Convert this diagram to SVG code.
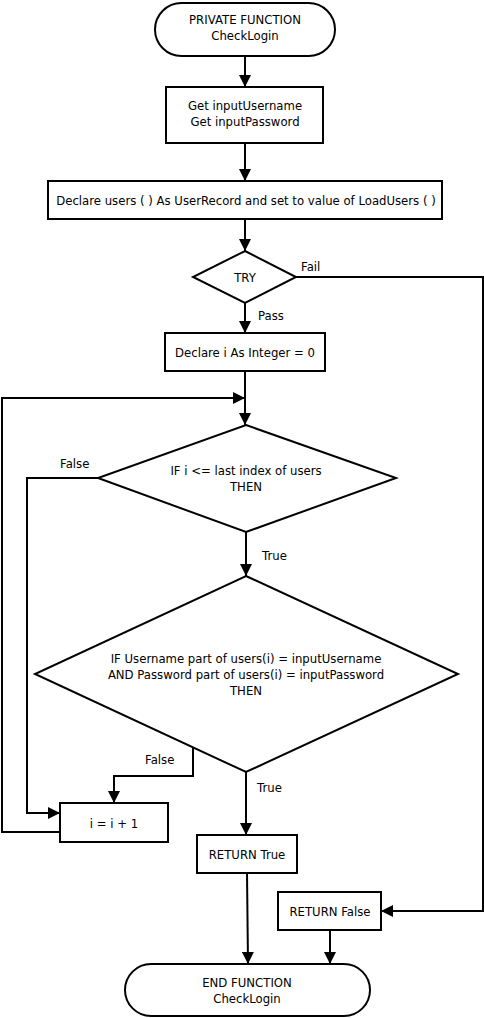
<svg xmlns="http://www.w3.org/2000/svg" width="484" height="1018" viewBox="0 0 484 1018">
  <style>
    .shape { fill: #ffffff; stroke: #000000; stroke-width: 2; }
    .edge { fill: none; stroke: #000000; stroke-width: 2; }
    text { font-family: "DejaVu Sans", "Liberation Sans", sans-serif; font-size: 11.7px; fill: #000000; }
    .c { text-anchor: middle; }
  </style>
  <defs>
    <marker id="arrow" viewBox="0 0 12 12" refX="12" refY="6" markerWidth="12" markerHeight="12" markerUnits="userSpaceOnUse" orient="auto">
      <path d="M0,0 L12,6 L0,12 Z" fill="#000000"/>
    </marker>
  </defs>
  <rect width="484" height="1018" fill="#ffffff"/>

  <!-- connectors -->
  <g id="connectors">
    <path class="edge" d="M245,56 L245,87" marker-end="url(#arrow)"/>
    <path class="edge" d="M245,143 L245,181" marker-end="url(#arrow)"/>
    <path class="edge" d="M245,219 L245,251" marker-end="url(#arrow)"/>
    <path class="edge" d="M245,303 L245,333" marker-end="url(#arrow)"/>
    <text x="258" y="320">Pass</text>
    <path class="edge" d="M296,277 L483,277 L483,911 L381,911" marker-end="url(#arrow)"/>
    <text x="301" y="271">Fail</text>
    <path class="edge" d="M245,371 L245,425" marker-end="url(#arrow)"/>
    <path class="edge" d="M60,832 L2,832 L2,398 L245,398" marker-end="url(#arrow)"/>
    <path class="edge" d="M98,478 L27,478 L27,813 L60,813" marker-end="url(#arrow)"/>
    <text x="60" y="468">False</text>
    <path class="edge" d="M246,532 L246,576" marker-end="url(#arrow)"/>
    <text x="262" y="560">True</text>
    <path class="edge" d="M193,748 L193,776 L114,776 L114,803" marker-end="url(#arrow)"/>
    <text x="145" y="764">False</text>
    <path class="edge" d="M246,772 L246,835" marker-end="url(#arrow)"/>
    <text x="257" y="792">True</text>
    <path class="edge" d="M247,873 L248,964" marker-end="url(#arrow)"/>
    <path class="edge" d="M330,930 L330,964" marker-end="url(#arrow)"/>
  </g>

  <g id="start">
    <rect class="shape" x="155" y="3" width="180" height="53" rx="26.5" ry="26.5"/>
    <text class="c" x="245" y="24">PRIVATE FUNCTION</text>
    <text class="c" x="245" y="40">CheckLogin</text>
  </g>

  <g id="get-inputs">
    <rect class="shape" x="166" y="87" width="157" height="56"/>
    <text class="c" x="245" y="110">Get inputUsername</text>
    <text class="c" x="245" y="126">Get inputPassword</text>
  </g>

  <g id="declare-users">
    <rect class="shape" x="48" y="181" width="394" height="38"/>
    <text class="c" x="246" y="205">Declare users ( ) As UserRecord and set to value of LoadUsers ( )</text>
  </g>

  <g id="try">
    <polygon class="shape" points="245,251 296,277 245,303 193,277"/>
    <text class="c" x="245" y="282">TRY</text>
  </g>

  <g id="declare-i">
    <rect class="shape" x="165" y="333" width="160" height="38"/>
    <text class="c" x="245" y="357">Declare i As Integer = 0</text>
  </g>

  <g id="check-index">
    <polygon class="shape" points="246,425 396,478 246,532 98,478"/>
    <text class="c" x="246" y="475">IF i &lt;= last index of users</text>
    <text class="c" x="246" y="491">THEN</text>
  </g>

  <g id="check-credentials">
    <polygon class="shape" points="246,576 458,674 246,772 35,674"/>
    <text class="c" x="246" y="663">IF Username part of users(i) = inputUsername</text>
    <text class="c" x="246" y="679">AND Password part of users(i) = inputPassword</text>
    <text class="c" x="246" y="695">THEN</text>
  </g>

  <g id="increment">
    <rect class="shape" x="60" y="803" width="108" height="39"/>
    <text class="c" x="114" y="828">i = i + 1</text>
  </g>

  <g id="return-true">
    <rect class="shape" x="197" y="835" width="100" height="38"/>
    <text class="c" x="247" y="859">RETURN True</text>
  </g>

  <g id="return-false">
    <rect class="shape" x="278" y="892" width="103" height="38"/>
    <text class="c" x="330" y="916">RETURN False</text>
  </g>

  <g id="end">
    <rect class="shape" x="125" y="964" width="245" height="52" rx="26" ry="26"/>
    <text class="c" x="247" y="987">END FUNCTION</text>
    <text class="c" x="247" y="1003">CheckLogin</text>
  </g>
</svg>
